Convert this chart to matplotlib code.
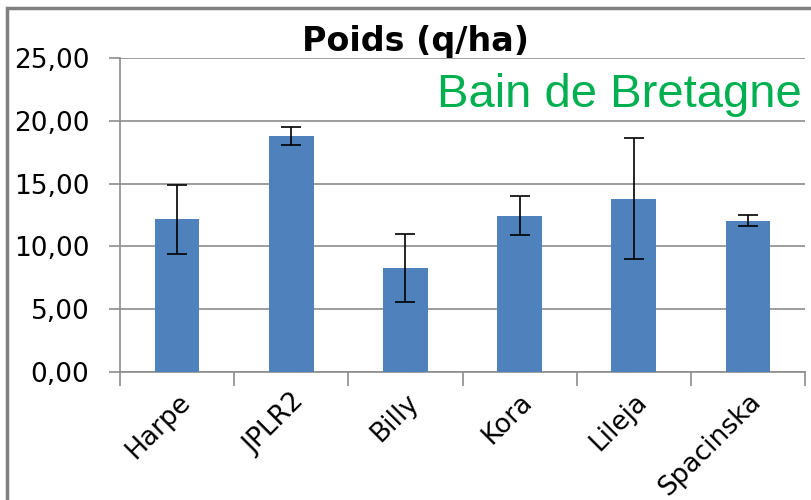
import matplotlib
matplotlib.use("Agg")
import matplotlib.pyplot as plt
from matplotlib.patches import Rectangle

# chart data
varieties = ['Harpe', 'JPLR2', 'Billy', 'Kora', 'Lileja', 'Spacinska']
poids = [12.15, 18.8, 8.3, 12.45, 13.8, 12.05]
erreur = [2.75, 0.7, 2.7, 1.55, 4.8, 0.45]
y_ticks = [0, 5, 10, 15, 20, 25]
y_labels = ['0,00', '5,00', '10,00', '15,00', '20,00', '25,00']

bar_color = '#4F81BD'
grid_color = '#8c8c8c'

fig = plt.figure(figsize=(8.11, 5.0), dpi=100)
fig.patch.set_facecolor('white')

# grey frame of the slide (left and top visible only)
fig.patches.append(Rectangle((7 / 811, -0.1), 1.2, 1 - 8 / 500 + 0.1,
                             transform=fig.transFigure, fill=False,
                             edgecolor='#808080', linewidth=2.5))

ax = fig.add_axes([120 / 811, 1 - 372 / 500, (805 - 120) / 811, (372 - 58) / 500])

x = list(range(len(varieties)))
ax.bar(x, poids, width=0.39, color=bar_color, zorder=3)
ax.errorbar(x, poids, yerr=erreur, fmt='none', ecolor='black',
            elinewidth=1.2, capsize=7, capthick=1.2, zorder=4)

ax.set_xlim(-0.5, len(varieties) - 0.5)
ax.set_ylim(0, 25)
ax.set_yticks(y_ticks)
ax.set_yticklabels(y_labels, fontsize=19, family='DejaVu Sans')
ax.yaxis.grid(True, color=grid_color, linewidth=1.2, zorder=0)
ax.tick_params(axis='y', length=8, width=1.2, color=grid_color, pad=14)

ax.set_xticks(x)
ax.set_xticklabels(varieties, rotation=45, ha='right', va='top',
                   rotation_mode='anchor', fontsize=19, family='DejaVu Sans')
ax.tick_params(axis='x', which='major', length=0, pad=12)
ax.set_xticks([i - 0.5 for i in range(len(varieties) + 1)], minor=True)
ax.tick_params(axis='x', which='minor', length=10, width=1.2, color=grid_color)

for side in ['top', 'right']:
    ax.spines[side].set_visible(False)
for side in ['left', 'bottom']:
    ax.spines[side].set_color(grid_color)
    ax.spines[side].set_linewidth(1.2)

fig.text(416 / 811, 1 - 42 / 500, 'Poids (q/ha)', ha='center', va='center',
         fontsize=24, fontweight='bold', family='DejaVu Sans')
fig.text(802 / 811, 1 - 107 / 500, 'Bain de Bretagne', ha='right', va='baseline',
         fontsize=34, color='#00B050', family='Liberation Sans')

fig.savefig('out.png', dpi=100)
